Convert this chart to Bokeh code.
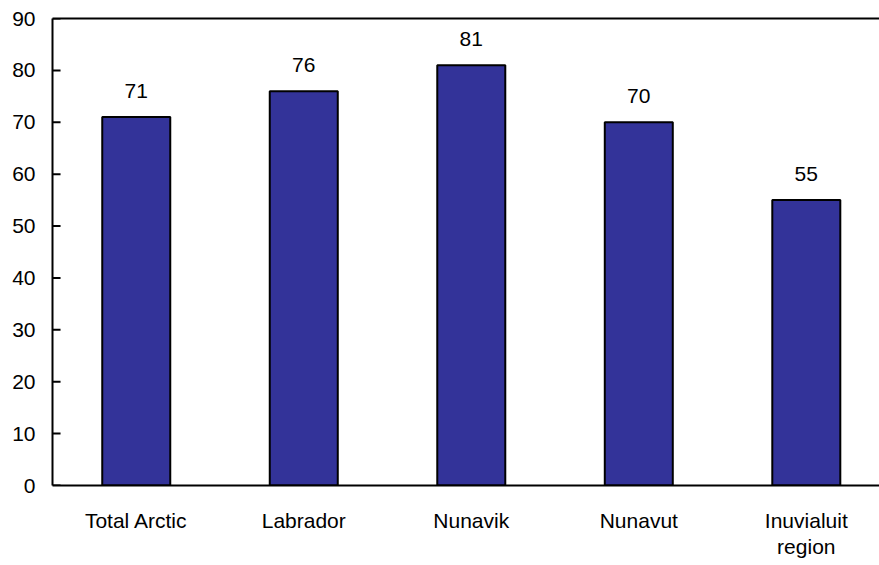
from bokeh.plotting import figure
from bokeh.models import ColumnDataSource, LinearAxis, FixedTicker, Range1d
from bokeh.core.properties import value
from bokeh.embed import file_html
from bokeh.resources import INLINE

categories = ["Total Arctic", "Labrador", "Nunavik", "Nunavut", "Inuvialuit\nregion"]
values = [71, 76, 81, 70, 55]
y_ticks = [0, 10, 20, 30, 40, 50, 60, 70, 80, 90]

xs = [i + 0.5 for i in range(len(categories))]
src = ColumnDataSource(dict(x=xs, top=values, label=[str(v) for v in values]))

FONT = "Liberation Sans"
FS = "21px"

p = figure(width=879, height=560, output_backend="svg", toolbar_location=None,
           x_range=Range1d(0, 4.937), y_range=Range1d(0, 90),
           min_border_left=52, min_border_right=0, min_border_top=18, min_border_bottom=71,
           x_axis_type=None, y_axis_type=None)
p.outline_line_color = None
p.background_fill_color = "white"
p.xgrid.visible = False
p.ygrid.visible = False

p.vbar(x="x", top="top", width=0.406, bottom=0, source=src,
       fill_color="#333399", line_color="black", line_width=2)

# inward tick marks on the value axis
p.segment(x0=[0] * len(y_ticks), y0=y_ticks, x1=[0.048] * len(y_ticks), y1=y_ticks,
          line_color="black", line_width=2)

p.text(x="x", y="top", text="label", source=src, text_align="center",
       text_baseline="middle", y_offset=-26, text_font=value(FONT),
       text_font_size=FS, text_color="black")

yaxis = LinearAxis(ticker=FixedTicker(ticks=y_ticks))
yaxis.axis_line_width = 2
yaxis.axis_line_color = "black"
yaxis.major_tick_line_color = None
yaxis.major_tick_in = 0
yaxis.major_tick_out = 0
yaxis.minor_tick_line_color = None
yaxis.major_label_text_font = FONT
yaxis.major_label_text_font_size = FS
yaxis.major_label_text_color = "black"
yaxis.major_label_standoff = 17
p.add_layout(yaxis, "left")

xaxis = LinearAxis(ticker=FixedTicker(ticks=xs))
xaxis.major_label_overrides = {x: c for x, c in zip(xs, categories)}
xaxis.axis_line_width = 2
xaxis.axis_line_color = "black"
xaxis.major_tick_line_color = None
xaxis.minor_tick_line_color = None
xaxis.major_tick_in = 0
xaxis.major_tick_out = 0
xaxis.major_label_text_font = FONT
xaxis.major_label_text_font_size = FS
xaxis.major_label_text_color = "black"
xaxis.major_label_text_line_height = 1.15
xaxis.major_label_standoff = 23
p.add_layout(xaxis, "below")

top_axis = LinearAxis(ticker=FixedTicker(ticks=[]))
top_axis.axis_line_width = 2
top_axis.axis_line_color = "black"
top_axis.major_tick_line_color = None
top_axis.minor_tick_line_color = None
top_axis.major_label_text_font_size = "0px"
p.add_layout(top_axis, "above")

open("out.html", "w").write(file_html(p, INLINE))
